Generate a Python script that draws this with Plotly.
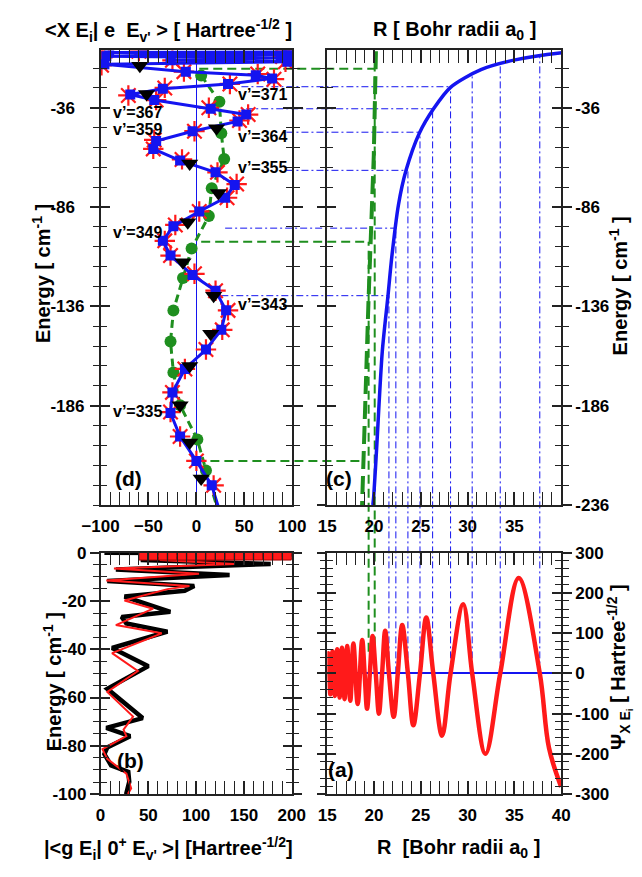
import plotly.graph_objects as go

W, H = 642, 877
FONT = "Liberation Sans, Arial, sans-serif"
BLUE = "#1414f0"
RED = "#ff1a1a"
GREEN = "#1f8f1f"
AXC = "#222222"

# ---------------- data ----------------
# panel (d): amplitudes vs bound-level energy
d_sq_E = [-7.7, -8.2, -8.4, -9.2, -10.1, -10.9, -12.1, -12.8, -14.1, -17.8, -19.6, -21.2, -24.0, -26.4,
          -29.3, -32.1, -36.5, -39.4, -42.9, -47.8, -52.7, -56.7, -62.6, -68.5, -74.9, -81.3, -88.2,
          -95.6, -103.0, -110.4, -120.2, -128.1, -138.0, -147.8, -157.7, -167.5, -179.3, -189.7,
          -201.5, -213.8, -226.1, -244.9]
d_sq_x = [95, -91, -56, 95, -94, 88, -27, 95, -96, -11, 62, 79, 33, -35, -69, -44, 15, 52, 43, -4,
          -42, -45, -17, 20, 40, 30, 3, -24, -35, -27, -4, 20, 31, 26, 10, -12, -25, -27, -17, 0, 16, 28]
d_star_E = [-6.8, -8.2, -7.5, -9.2, -10.6, -10.2, -12.1, -12.8, -14.6, -17.8, -19.0, -21.6, -24.0, -26.0,
            -29.8, -32.1, -36.0, -39.4, -42.4, -47.8, -52.2, -56.7, -62.0, -68.5, -74.4, -81.3, -88.2,
            -95.0, -103.0, -110.4, -119.6, -128.1, -138.0, -147.8, -157.7, -167.5, -179.3, -189.2,
            -201.5, -213.8, -226.1, -244.9]
d_star_x = [93, -99, -60, 97, -98, 90, -25, 93, -99, -13, 64, 81, 35, -33, -71, -42, 13, 54, 45, -2,
            -44, -45, -15, 22, 42, 32, 3, -22, -33, -27, -2, 20, 33, 27, 10, -12, -25, -27, -17, 0, 18, 28]
d_tri_E = [-14.8, -29.1, -46.3, -64.1, -78.9, -93.6, -113.8, -130.6, -149.8, -166.0, -185.8, -204.5, -222.7]
d_tri_x = [-59, -52, 21, -7, 23, -9, -14, 18, 15, -7, -17, -7, 5]
d_cir_E = [-19.7, -33.0, -48.8, -61.8, -76.5, -90.5, -106.9, -121.7, -138.1, -153.7, -169.3, -185.8,
           -203.0, -218.6, -242.4]
d_cir_x = [5, 24, 26, 29, 16, 13, -5, -14, -24, -27, -24, -17, 1, 10, 25]
level_labels = ["v’=371", "v’=367", "v’=359", "v’=364", "v’=355", "v’=349", "v’=343", "v’=335"]
level_label_E = [-29.1, -38.6, -46.8, -50.3, -66.0, -99.0, -135.0, -188.7]
level_label_x = [41, -89, -89, 41, 41, -89, 41, -89]

# panel (c): potential curve and turning points
c_R = [19.87, 19.97, 20.27, 20.88, 21.49, 21.9, 22.61, 23.42, 24.84, 26.36, 28.18, 31.43, 35.08, 39.85, 40.5]
c_E = [-236.0, -231.1, -207.9, -158.7, -130.6, -110.9, -84.8, -67.5, -48.8, -36.5, -25.7, -16.8, -11.9, -8.4, -8.2]
c_tp_R = [20.2, 19.97, 19.4, 19.06, 18.72]
c_tp_E = [-7.5, -60.0, -134.0, -183.0, -236.0]
node_R = [21.59, 22.33, 23.62, 24.91, 26.26, 28.18, 30.49, 33.49, 37.72]
node_E = [-130.6, -96.6, -67.5, -48.3, -36.5, -25.4, -19.6, -14.0, -10.0]
node_xstart = [26, 30, 94, 94, 52, 47, None, None, None]
green_E = [-16.3, -103.5, -213.8]
green_xstart = [3, 5, 0]
green_R = [20.07, 19.42, 18.8]
green_psi_end = [0, 54, None]

# panel (b)
b_blk_x = [4, 230, 42, 178, 16, 135, 7, 98, 88, 25, 73, 22, 27, 70, 12, 50, 7, 44, 6, 31, 7, 4, 11, 29, 30, 27, 28]
b_blk_E = [0, -0.4, -3.0, -4.7, -7.0, -9.3, -11.7, -13.8, -15.8, -18.2, -24.5, -26.6, -29.3, -32.7, -39.5,
           -47.0, -56.4, -68.5, -72.6, -76.0, -80.7, -83.4, -88.1, -90.8, -94.9, -99.6, -101]
b_red_x = [215, 62, 140, 14, 103, 6, 93, 70, 25, 55, 16, 64, 12, 39, 7, 34, 24, 27, 2, 7, 27, 32, 29, 30]
b_red_E = [-2.2, -3.0, -4.7, -6.6, -8.7, -11.5, -13.8, -15.1, -19.8, -23.2, -30.0, -33.4, -41.6, -49.0,
           -57.7, -67.9, -73.3, -76.0, -81.4, -85.4, -91.5, -97.6, -99.6, -101]
b_sq_x = [45, 55, 65, 75, 85, 95, 105, 115, 125, 135, 145, 155, 165, 175, 185, 195]
b_sq_E = [-1.2, -1.2, -1.2, -1.2, -1.2, -1.2, -1.2, -1.2, -1.2, -1.2, -1.2, -1.2, -1.2, -1.2, -1.2, -1.2]

# panel (a): continuum wavefunction
a_R = [15.0, 15.10, 15.32, 15.56, 15.81, 16.06, 16.32, 16.57, 16.85, 17.13, 17.46, 17.79, 18.25, 18.73,
       18.99, 19.25, 19.55, 19.84, 20.18, 20.52, 20.86, 21.19, 21.59, 22.10, 22.54, 23.01, 23.62, 24.20,
       24.91, 25.58, 26.33, 27.27, 28.18, 29.53, 30.49, 31.91, 33.49, 35.46, 37.72, 38.7, 40.0]
a_psi = [30, 50, -52, 55, -56, 60, -60, 64, -64, 68, -68, 74, -76, 83, 0, -88, 0, 93, 0, -100, 0, 106, 0,
         -108, 0, 120, 0, -129, 0, 139, 0, -155, 0, 172, 0, -200, 0, 237, 0, -185, -282]

# ---------------- layout geometry ----------------
def px_x(p):
    return p / W

def px_y(p):
    return 1 - p / H

D_X = [px_x(86), px_x(288)]
C_X = [px_x(325), px_x(571.5)]
TOP_Y = [px_y(507), px_y(42.3)]
B_X = [px_x(86), px_x(287.5)]
BOT_Y = [px_y(802.5), px_y(555.7)]

E_RANGE = [-236, -7.1]
D_XRANGE = [-100, 100]
R_RANGE = [15, 40]
B_XRANGE = [0, 200]
B_YRANGE = [-100, 0]
A_YRANGE = [-300, 300]


def to_paper(v, dom, rng):
    return dom[0] + (v - rng[0]) / (rng[1] - rng[0]) * (dom[1] - dom[0])


fig = go.Figure()

# ---- panel (d) ----
fig.add_trace(go.Scatter(x=d_cir_x, y=d_cir_E, mode="lines+markers", xaxis="x", yaxis="y",
                         line=dict(color=GREEN, width=3, dash="8px,5px"),
                         marker=dict(symbol="circle", size=12, color=GREEN)))
fig.add_trace(go.Scatter(x=d_star_x, y=d_star_E, mode="markers", xaxis="x", yaxis="y",
                         marker=dict(symbol="asterisk-open", size=17, color=RED,
                                     line=dict(width=2.2, color=RED))))
fig.add_trace(go.Scatter(x=d_sq_x, y=d_sq_E, mode="lines+markers", xaxis="x", yaxis="y",
                         line=dict(color=BLUE, width=3),
                         marker=dict(symbol="square", size=10, color=BLUE)))
fig.add_trace(go.Scatter(x=d_tri_x, y=d_tri_E, mode="markers", xaxis="x", yaxis="y",
                         marker=dict(symbol="triangle-down", size=15, color="black")))

# ---- panel (c) ----
fig.add_trace(go.Scatter(x=c_tp_R, y=c_tp_E, mode="lines", xaxis="x2", yaxis="y2",
                         line=dict(color=GREEN, width=4, dash="18px,7px")))
fig.add_trace(go.Scatter(x=c_R, y=c_E, mode="lines", xaxis="x2", yaxis="y2",
                         line=dict(color=BLUE, width=3.5, shape="spline", smoothing=0.8)))

# ---- panel (b) ----
fig.add_trace(go.Scatter(x=b_blk_x, y=b_blk_E, mode="lines", xaxis="x3", yaxis="y3",
                         line=dict(color="black", width=4.5)))
fig.add_trace(go.Scatter(x=b_red_x, y=b_red_E, mode="lines", xaxis="x3", yaxis="y3",
                         line=dict(color=RED, width=2)))
fig.add_trace(go.Scatter(x=b_sq_x, y=b_sq_E, mode="markers", xaxis="x3", yaxis="y3",
                         marker=dict(symbol="square", size=9, color=RED,
                                     line=dict(width=1, color="#a00000"))))

# ---- panel (a) ----
fig.add_trace(go.Scatter(x=a_R, y=a_psi, mode="lines", xaxis="x4", yaxis="y4",
                         line=dict(color=RED, width=4.5, shape="spline", smoothing=1.0)))

# dummy traces for the overlay (inner tick) axes
for ya, xa in [("y5", "x"), ("y6", "x2"), ("y7", "x3"), ("y8", "x4")]:
    fig.add_trace(go.Scatter(x=[None], y=[None], xaxis=xa, yaxis=ya, mode="markers",
                             hoverinfo="skip"))

fig.update_traces(showlegend=False)

tickfont = dict(family=FONT, size=17, color="black", weight="bold")

def xax(dom, rng, anchor, tickvals, minor_dtick, show_labels=True):
    return dict(domain=dom, range=rng, anchor=anchor, tickmode="array", tickvals=tickvals,
                ticks="inside", ticklen=13, tickwidth=1.5, tickcolor=AXC, mirror="allticks",
                showline=True, linecolor=AXC, linewidth=1.5, showgrid=False, zeroline=False,
                showticklabels=show_labels, tickfont=tickfont, ticklabelstandoff=5,
                minor=dict(ticks="inside", ticklen=6, tickwidth=1.2, tickcolor=AXC,
                           dtick=minor_dtick, tick0=rng[0], showgrid=False))

def yax(dom, rng, anchor, tickvals, ticktext, minor_dtick, minor_tick0, side, standoff):
    return dict(domain=dom, range=rng, anchor=anchor, side=side, tickmode="array",
                tickvals=tickvals, ticktext=ticktext,
                ticks="outside", ticklen=9, tickwidth=1.5, tickcolor=AXC, mirror="allticks",
                showline=True, linecolor=AXC, linewidth=1.5, showgrid=False, zeroline=False,
                tickfont=tickfont, ticklabelstandoff=standoff,
                minor=dict(ticks="outside", ticklen=6, tickwidth=1.2, tickcolor=AXC,
                           dtick=minor_dtick, tick0=minor_tick0, showgrid=False))

def yover(over, rng, anchor, tickvals, minor_dtick, minor_tick0, side):
    return dict(overlaying=over, range=rng, anchor=anchor, side=side, tickmode="array",
                tickvals=tickvals, ticks="inside", ticklen=9, tickwidth=1.5, tickcolor=AXC,
                mirror="allticks", showline=False, showgrid=False, zeroline=False,
                showticklabels=False,
                minor=dict(ticks="inside", ticklen=6, tickwidth=1.2, tickcolor=AXC,
                           dtick=minor_dtick, tick0=minor_tick0, showgrid=False))

E_major = [-36, -86, -136, -186]
E_major_text = ["-36&nbsp;&nbsp;", "-86&nbsp;&nbsp;", "-136", "-186"]
E_major_c = [-36, -86, -136, -186, -236]

layout = dict(
    width=W, height=H, margin=dict(l=0, r=0, t=0, b=0), autosize=False,
    paper_bgcolor="white", plot_bgcolor="rgba(0,0,0,0)", showlegend=False,
    xaxis=xax(D_X, D_XRANGE, "y", [-100, -50, 0, 50, 100], 10),
    yaxis=yax(TOP_Y, E_RANGE, "x", E_major, E_major_text, 10, -6, "left", 2),
    xaxis2=xax(C_X, R_RANGE, "y2", [15, 20, 25, 30, 35], 1),
    yaxis2=yax(TOP_Y, E_RANGE, "x2", E_major_c, [str(v) for v in E_major_c], 10, -6, "right", 0),
    xaxis3=xax(B_X, B_XRANGE, "y3", [0, 50, 100, 150, 200], 10),
    yaxis3=yax(BOT_Y, B_YRANGE, "x3", [0, -20, -40, -60, -80, -100],
               ["0", "-20", "-40", "-60", "-80", "-100"], 5, 0, "left", 0),
    xaxis4=xax(C_X, R_RANGE, "y4", [15, 20, 25, 30, 35, 40], 1),
    yaxis4=yax(BOT_Y, A_YRANGE, "x4", [-300, -200, -100, 0, 100, 200, 300],
               ["-300", "-200", "-100", "0", "100", "200", "300"], 20, -300, "right", 0),
    yaxis5=yover("y", E_RANGE, "x", E_major, 10, -6, "left"),
    yaxis6=yover("y2", E_RANGE, "x2", E_major_c, 10, -6, "right"),
    yaxis7=yover("y3", B_YRANGE, "x3", [0, -20, -40, -60, -80, -100], 5, 0, "left"),
    yaxis8=yover("y4", A_YRANGE, "x4", [-300, -200, -100, 0, 100, 200, 300], 20, -300, "right"),
)
layout["xaxis"]["zeroline"] = True
layout["xaxis"]["zerolinecolor"] = BLUE
layout["xaxis"]["zerolinewidth"] = 1.2
layout["yaxis4"]["zeroline"] = True
layout["yaxis4"]["zerolinecolor"] = BLUE
layout["yaxis4"]["zerolinewidth"] = 1.5
fig.update_layout(**layout)

# ---- connecting guide lines ----
shapes = []
BDASH = "7px,3px,2px,3px"
for R, E, xs in zip(node_R, node_E, node_xstart):
    if xs is not None:
        shapes.append(dict(type="line", layer="below", xref="paper", yref="y",
                           x0=to_paper(xs, D_X, D_XRANGE), x1=to_paper(R, C_X, R_RANGE), y0=E, y1=E,
                           line=dict(color=BLUE, width=1, dash=BDASH)))
    shapes.append(dict(type="line", layer="below", xref="x2", yref="paper", x0=R, x1=R,
                       y0=to_paper(0, BOT_Y, A_YRANGE), y1=to_paper(E, TOP_Y, E_RANGE),
                       line=dict(color=BLUE, width=1, dash=BDASH)))
for E, xs, R, pe in zip(green_E, green_xstart, green_R, green_psi_end):
    shapes.append(dict(type="line", layer="below", xref="paper", yref="y",
                       x0=to_paper(xs, D_X, D_XRANGE), x1=to_paper(R, C_X, R_RANGE), y0=E, y1=E,
                       line=dict(color=GREEN, width=2, dash="9px,5px")))
    if pe is not None:
        shapes.append(dict(type="line", layer="below", xref="x2", yref="paper", x0=R, x1=R,
                           y0=to_paper(pe, BOT_Y, A_YRANGE), y1=to_paper(E, TOP_Y, E_RANGE),
                           line=dict(color=GREEN, width=2, dash="9px,5px")))
fig.update_layout(shapes=shapes)

# ---- text ----
ann = []
def paper_text(text, xp, yp, size=20, angle=0):
    ann.append(dict(text=text, xref="paper", yref="paper", x=px_x(xp), y=px_y(yp),
                    xanchor="center", yanchor="middle", showarrow=False, textangle=angle,
                    font=dict(family=FONT, size=size, color="black", weight="bold")))

paper_text("&lt;X E<sub>i</sub>| e&nbsp;&nbsp;E<sub>v'</sub> &gt; [ Hartree<sup>-1/2</sup> ]", 158, 22)
paper_text("R [ Bohr radii a<sub>0</sub> ]", 459, 22)
paper_text("Energy [ cm<sup>-1</sup> ]", 23, 270, angle=-90)
paper_text("Energy [ cm<sup>-1</sup> ]", 632, 283, angle=-90)
paper_text("Energy [ cm<sup>-1</sup> ]", 35, 688, angle=-90)
paper_text("|&lt;g E<sub>i</sub>| 0<sup>+</sup> E<sub>v'</sub> &gt;| [Hartree<sup>-1/2</sup>]", 158, 858)
paper_text("R&nbsp;&nbsp;[Bohr radii a<sub>0</sub> ]", 463, 858)
paper_text("Ψ<sub>X E<sub>i</sub></sub> [ Hartree<sup>-1/2</sup> ]", 633, 672, angle=-90)

for t, x, E in zip(level_labels, level_label_x, level_label_E):
    ann.append(dict(text=t, xref="x", yref="y", x=x, y=E, xanchor="left", yanchor="middle",
                    showarrow=False, font=dict(family=FONT, size=16, color="black", weight="bold")))

for t, xr, yr, x, y in [("(d)", "x", "y", -71, -222.7), ("(c)", "x2", "y2", 16.3, -222.7),
                        ("(b)", "x3", "y3", 31, -86), ("(a)", "x4", "y4", 16.5, -239)]:
    ann.append(dict(text=t, xref=xr, yref=yr, x=x, y=y, xanchor="center", yanchor="middle",
                    showarrow=False, font=dict(family=FONT, size=21, color="black", weight="bold")))
fig.update_layout(annotations=ann)

fig.write_html("out.html")
